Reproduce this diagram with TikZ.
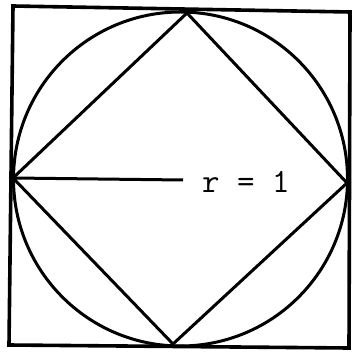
\documentclass[tikz,border=0pt]{standalone}
\tikzset{
  ln/.style = {draw=black, line width=3pt, line join=miter},
  fr/.style = {draw=black, line width=3.6pt},
  lab/.style = {font=\ttfamily\fontsize{34}{38}\selectfont, inner sep=0pt, anchor=west}
}
\begin{document}
\begin{tikzpicture}[x=1pt, y=-1pt]
  \useasboundingbox [fill=white] (0,0) rectangle (351,352);
  % outer square
  \coordinate (sa) at (13,6);
  \coordinate (sb) at (350,12);
  \coordinate (sc) at (349,348);
  \coordinate (sd) at (9,345);
  \draw [fr] (sa) -- (sb) -- (sc) -- (sd) -- cycle;
  % circle
  \coordinate (o) at (180.5,179);
  \draw [ln] (o) circle [radius=167];
  % inscribed square
  \coordinate (t) at (187,13);
  \coordinate (l) at (13,178);
  \coordinate (b) at (173,344);
  \coordinate (r) at (347,183);
  \draw [ln] (t) -- (r) -- (b) -- (l) -- cycle;
  % radius
  \coordinate (m) at (183,180);
  \draw [ln] (l) -- (m);
  \node [lab] (rl) at (202,182) {r = 1};
\end{tikzpicture}
\end{document}
